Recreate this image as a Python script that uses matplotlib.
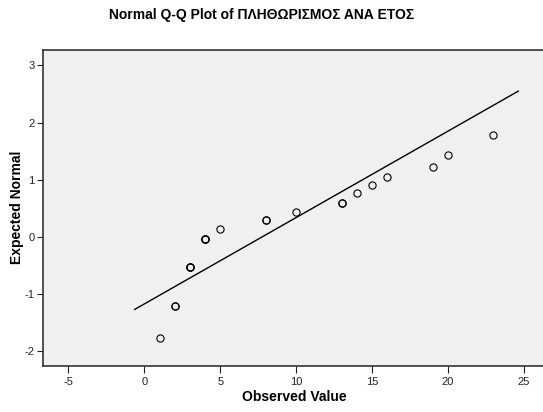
import matplotlib
matplotlib.use("Agg")
import matplotlib.pyplot as plt
import numpy as np

plt.rcParams['font.family'] = ['Liberation Sans', 'DejaVu Sans']
plt.rcParams['axes.unicode_minus'] = False

# observed values, expected normal scores and how many cases share each value
observed = [1, 2, 3, 4, 5, 8, 10, 13, 14, 15, 16, 19, 20, 23]
expected = [-1.77, -1.21, -0.52, -0.04, 0.145, 0.29, 0.44, 0.594, 0.77, 0.90, 1.05, 1.22, 1.44, 1.78]
counts = [1, 2, 3, 3, 1, 2, 1, 2, 1, 1, 1, 1, 1, 1]

# reference line (normal fit) end points
line_x = [-0.64, 24.64]
line_y = [-1.27, 2.55]

xticks = [-5, 0, 5, 10, 15, 20, 25]
yticks = [-2, -1, 0, 1, 2, 3]

fig = plt.figure(figsize=(5.43, 4.12), dpi=100)
W, H = 543, 412
ax = fig.add_axes([42.7 / W, 1 - 366 / H, (545 - 42.7) / W, (366 - 50) / H])
ax.set_facecolor('#f0f0f0')

ax.plot(line_x, line_y, color='black', lw=1.0)
ox = np.repeat(observed, counts)
oy = np.repeat(expected, counts)
ax.plot(ox, oy, 'o', ms=5.2, mfc='none', mec='black', mew=0.8, ls='none')

ax.set_xlim(-6.7, 26.4)
ax.set_ylim(-2.26, 3.27)
ax.set_xticks(xticks)
ax.set_yticks(yticks)
ax.tick_params(axis='both', labelsize=8, colors='#222222', length=4, width=0.8, pad=2)
ax.tick_params(axis='x', length=5, pad=3)
for s in ['left', 'bottom', 'top']:
    ax.spines[s].set_linewidth(1.2)
    ax.spines[s].set_color('#333333')
ax.spines['right'].set_visible(False)

fig.text(262 / W, 1 - 14.5 / H, 'Normal Q-Q Plot of ΠΛΗΘΩΡΙΣΜΟΣ ΑΝΑ ΕΤΟΣ',
         ha='center', va='center', fontsize=10, fontweight='bold')
fig.text(294 / W, 1 - 397 / H, 'Observed Value', ha='center', va='center',
         fontsize=10, fontweight='bold')
fig.text(17 / W, 1 - 207 / H, 'Expected Normal', ha='center', va='center',
         fontsize=10, fontweight='bold', rotation=90)

fig.savefig('out.png', dpi=100)
